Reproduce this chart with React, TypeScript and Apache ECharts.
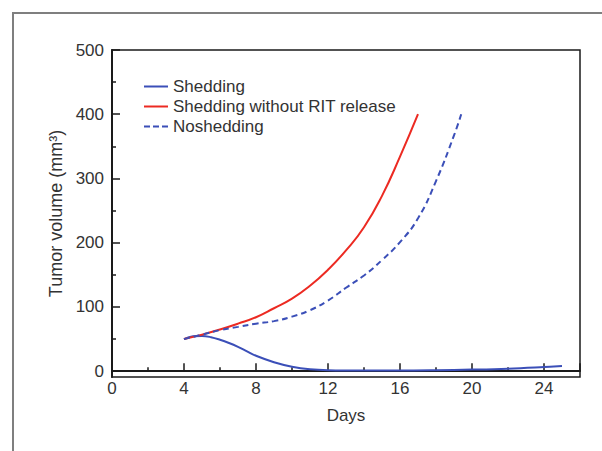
import React, { useEffect, useRef } from "react";
import * as echarts from "echarts";

const sheddingDays = [4, 4.5, 5, 5.5, 6, 6.5, 7, 7.5, 8, 9, 10, 11, 12, 14, 16, 18, 20, 22, 24, 25];
const sheddingValues = [50, 54.5, 55, 53, 49, 44, 38, 31, 24, 14, 7, 3, 1.5, 1, 1, 1.5, 2.5, 4, 6.5, 8];

const noRitDays = [4, 5, 6, 7, 8, 9, 10, 11, 12, 13, 14, 15, 16, 17];
const noRitValues = [50, 57, 65, 74, 84, 98, 113, 133, 158, 188, 224, 273, 334, 400];

const noSheddingDays = [4, 5, 6, 7, 8, 9, 10, 11, 12, 13, 14, 15, 16, 17, 18, 19, 19.4];
const noSheddingValues = [50, 57, 64, 69, 74, 78, 85, 95, 110, 130, 149, 173, 201, 238, 296, 367, 400];

const xTickLabels = [0, 4, 8, 12, 16, 20, 24];
const yMajorTicks = [0, 100, 200, 300, 400, 500];
const yMinorTicks = [50, 150, 250, 350, 450];

const seriesNames = ["Shedding", "Shedding without RIT release", "Noshedding"];

const FONT = "Liberation Sans, Arial, Helvetica, sans-serif";
const BLUE = "#3b4fb8";
const RED = "#ec2a22";
const SOLID_ICON = "path://M0,0H24V2H0Z";
const DASH_ICON = "path://M0,0H6V2H0Z M9,0H15V2H9Z M18,0H24V2H18Z";

function pairs(xs: number[], ys: number[]) {
  return xs.map((x, i) => [x, ys[i]]);
}

export default function App() {
  const ref = useRef<HTMLDivElement>(null);
  useEffect(() => {
    if (!ref.current) return;
    const chart = echarts.init(ref.current, undefined, { renderer: "svg" });
    chart.setOption({
      animation: false,
      backgroundColor: "#ffffff",
      graphic: [
        {
          type: "polyline",
          shape: { points: [[13, 460], [13, 13], [610, 13]] },
          style: { stroke: "#7f7f7f", lineWidth: 2, fill: "none" },
          silent: true,
        },
      ],
      grid: {
        left: 112,
        right: 22,
        top: 50,
        bottom: 74,
        show: true,
        borderColor: "#1a1a1a",
        borderWidth: 1.5,
        backgroundColor: "transparent",
      },
      legend: {
        orient: "vertical",
        left: 139,
        top: 73,
        itemWidth: 24,
        itemHeight: 2,
        itemGap: 3,
        data: [
          { name: seriesNames[0], icon: SOLID_ICON },
          { name: seriesNames[1], icon: SOLID_ICON },
          { name: seriesNames[2], icon: DASH_ICON },
        ],
        textStyle: { fontFamily: FONT, fontSize: 17, color: "#333333" },
      },
      xAxis: {
        type: "value",
        min: 0,
        max: 26,
        interval: 4,
        name: "Days",
        nameLocation: "middle",
        nameGap: 30,
        nameTextStyle: { fontFamily: FONT, fontSize: 17, color: "#333333" },
        axisLine: { show: true, lineStyle: { color: "#1a1a1a", width: 2 } },
        axisTick: { show: true, inside: true, length: 8, lineStyle: { color: "#1a1a1a", width: 1.5 } },
        minorTick: { show: true, splitNumber: 2, length: 4, lineStyle: { color: "#1a1a1a", width: 1.5 } },
        axisLabel: {
          fontFamily: FONT,
          fontSize: 17,
          color: "#333333",
          margin: 3,
          customValues: xTickLabels,
        },
        splitLine: { show: false },
      },
      yAxis: [
        {
          type: "value",
          min: -9,
          max: 500,
          name: "Tumor volume (mm³)",
          nameLocation: "middle",
          nameGap: 44,
          nameTextStyle: { fontFamily: FONT, fontSize: 18, color: "#333333" },
          axisLine: { show: true, lineStyle: { color: "#1a1a1a", width: 2 } },
          axisTick: {
            show: true,
            inside: true,
            length: 8,
            customValues: yMajorTicks,
            lineStyle: { color: "#1a1a1a", width: 1.5 },
          },
          axisLabel: {
            fontFamily: FONT,
            fontSize: 17,
            color: "#333333",
            margin: 8,
            customValues: yMajorTicks,
          },
          splitLine: { show: false },
        },
        {
          type: "value",
          min: -9,
          max: 500,
          position: "left",
          axisLine: { show: false },
          axisTick: {
            show: true,
            inside: true,
            length: 4,
            customValues: yMinorTicks,
            lineStyle: { color: "#1a1a1a", width: 1.5 },
          },
          axisLabel: { show: false },
          splitLine: { show: false },
        },
      ],
      series: [
        {
          name: seriesNames[0],
          type: "line",
          symbol: "none",
          smooth: 0.4,
          data: pairs(sheddingDays, sheddingValues),
          lineStyle: { color: BLUE, width: 2 },
          itemStyle: { color: BLUE },
        },
        {
          name: seriesNames[1],
          type: "line",
          symbol: "none",
          smooth: 0.5,
          data: pairs(noRitDays, noRitValues),
          lineStyle: { color: RED, width: 2 },
          itemStyle: { color: RED },
        },
        {
          name: seriesNames[2],
          type: "line",
          symbol: "none",
          smooth: 0.5,
          data: pairs(noSheddingDays, noSheddingValues),
          lineStyle: { color: BLUE, width: 2, type: [6, 4] },
          itemStyle: { color: BLUE },
        },
      ],
    });
    return () => chart.dispose();
  }, []);
  return <div ref={ref} style={{ width: 602, height: 451, position: "fixed", left: 0, top: 0 }} />;
}
